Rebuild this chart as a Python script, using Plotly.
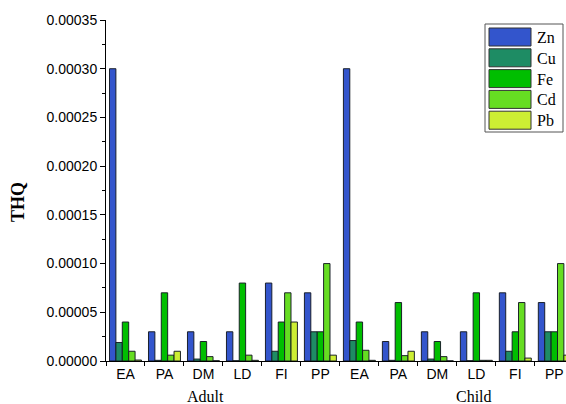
import plotly.graph_objects as go

categories = ["EA", "PA", "DM", "LD", "FI", "PP", "EA", "PA", "DM", "LD", "FI", "PP"]
groups = ["Adult", "Child"]
metals = ["Zn", "Cu", "Fe", "Cd", "Pb"]
colors = ["#3355CC", "#1E8C64", "#00BE00", "#66DD22", "#CCEE33"]

zn = [0.00030, 0.00003, 0.00003, 0.00003, 0.00008, 0.00007,
      0.00030, 0.00002, 0.00003, 0.00003, 0.00007, 0.00006]
cu = [0.000019, 0.0000007, 0.000002, 0.0000003, 0.00001, 0.00003,
      0.000021, 0.0000007, 0.000002, 0.0000003, 0.00001, 0.00003]
fe = [0.00004, 0.00007, 0.00002, 0.00008, 0.00004, 0.00003,
      0.00004, 0.00006, 0.00002, 0.00007, 0.00003, 0.00003]
cd = [0.00001, 0.000006, 0.0000045, 0.000006, 0.00007, 0.0001,
      0.000011, 0.0000055, 0.0000045, 0.0000007, 0.00006, 0.0001]
pb = [0.000001, 0.00001, 0.0000003, 0.0000007, 0.00004, 0.000006,
      0.0000007, 0.00001, 0.0000002, 0.0000007, 0.000003, 0.000006]
series = [zn, cu, fe, cd, pb]

W, H = 566, 404
L, R, T, B = 106, 0, 20, 43
PW, PH = W - L - R, H - T - B


def px(x):
    return (x - L) / PW


def py(y):
    return (H - B - y) / PH


xs = list(range(len(categories)))
fig = go.Figure()
for name, vals, col in zip(metals, series, colors):
    fig.add_trace(go.Bar(
        x=xs, y=vals, name=name, showlegend=False,
        marker=dict(color=col, line=dict(color="rgba(20,25,35,0.95)", width=1)),
    ))

# manual legend (large swatches like the reference)
shapes = [dict(type="rect", xref="paper", yref="paper",
               x0=px(485), x1=px(563), y0=py(132), y1=py(24),
               line=dict(color="#555", width=1), fillcolor="white", layer="above")]
annotations = []
for i, (name, col) in enumerate(zip(metals, colors)):
    top = 28 + i * 20.8
    shapes.append(dict(type="rect", xref="paper", yref="paper",
                       x0=px(489), x1=px(531), y0=py(top + 18), y1=py(top),
                       line=dict(color="#333", width=1), fillcolor=col, layer="above"))
    annotations.append(dict(xref="paper", yref="paper", x=px(535), y=py(top + 9.5),
                            text=name, showarrow=False, xanchor="left", yanchor="middle",
                            font=dict(family="Liberation Serif", size=16, color="black")))

# group labels
for g, gx in zip(groups, [2.05, 8.95]):
    annotations.append(dict(xref="x", yref="paper", x=gx, y=py(397), text=g,
                            showarrow=False, xanchor="center", yanchor="middle",
                            font=dict(family="Liberation Serif", size=16, color="black")))

# y title
annotations.append(dict(xref="paper", yref="paper", x=px(18), y=py(202), text="<b>THQ</b>",
                        textangle=-90, showarrow=False, xanchor="center", yanchor="middle",
                        font=dict(family="Liberation Serif", size=18, color="black")))

fig.update_layout(
    width=W, height=H,
    margin=dict(l=L, r=R, t=T, b=B, pad=0),
    paper_bgcolor="white", plot_bgcolor="white",
    barmode="group", bargap=0.18, bargroupgap=0,
    shapes=shapes, annotations=annotations,
    xaxis=dict(
        range=[-0.5, 11.3], tickmode="array", tickvals=xs, ticktext=categories,
        showgrid=False, zeroline=False, showline=True, linecolor="black", linewidth=1,
        ticks="", tickfont=dict(family="Liberation Sans", size=14, color="black"),
        minor=dict(tick0=-0.5, dtick=1, ticks="outside", ticklen=4, tickcolor="black"),
    ),
    yaxis=dict(
        range=[0, 0.00035], dtick=0.00005, tick0=0, tickformat=".5f",
        showgrid=False, zeroline=False, showline=True, linecolor="black", linewidth=1,
        ticks="outside", ticklen=5, tickcolor="black",
        tickfont=dict(family="Liberation Sans", size=14, color="black"),
        minor=dict(dtick=0.000025, ticks="outside", ticklen=3, tickcolor="black"),
    ),
)

fig.write_html(
    "out.html",
    config={"displayModeBar": False},
    post_script="document.body.style.margin='0';document.body.style.overflow='hidden';",
)
